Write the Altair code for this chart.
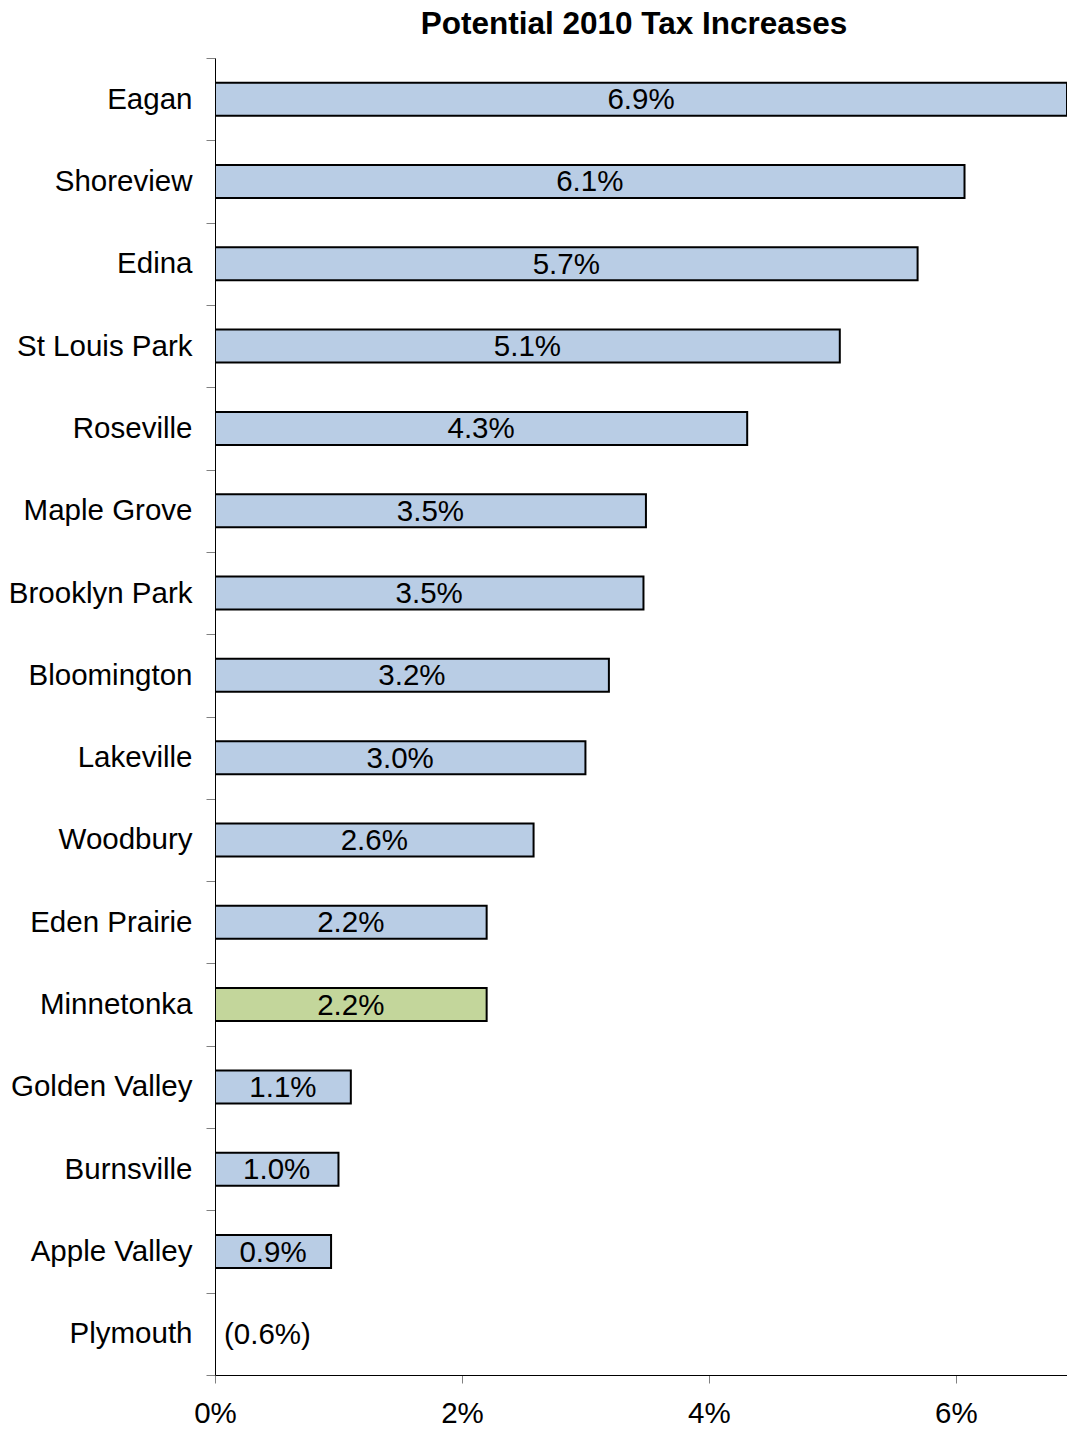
import altair as alt
import pandas as pd

cities = ["Eagan", "Shoreview", "Edina", "St Louis Park", "Roseville", "Maple Grove",
          "Brooklyn Park", "Bloomington", "Lakeville", "Woodbury", "Eden Prairie",
          "Minnetonka", "Golden Valley", "Burnsville", "Apple Valley", "Plymouth"]
values = [6.9, 6.07, 5.69, 5.06, 4.31, 3.49, 3.47, 3.19, 3.0, 2.58, 2.2, 2.2, 1.1, 1.0, 0.94, -0.6]
labels = ["6.9%", "6.1%", "5.7%", "5.1%", "4.3%", "3.5%", "3.5%", "3.2%", "3.0%", "2.6%",
          "2.2%", "2.2%", "1.1%", "1.0%", "0.9%", "(0.6%)"]
groups = ["Other"] * 11 + ["Minnetonka"] + ["Other"] * 4
x_ticks = [0, 2, 4, 6]

df = pd.DataFrame({"city": cities, "value": values, "label": labels, "group": groups})
df["mid"] = df["value"].clip(lower=0) / 2

FONT = "Liberation Sans"
FS = 29.5

y_enc = alt.Y("city:N", sort=cities, title=None,
              scale=alt.Scale(paddingInner=0, paddingOuter=0),
              axis=alt.Axis(tickBand="extent", tickSize=9, tickColor="#808080",
                            domainColor="black", labelPadding=14, labelFontSize=FS,
                            labelFont=FONT, labelColor="black", labelLimit=300))
x_scale = alt.Scale(domain=[0, 6.9], nice=False, zero=True)

bars = alt.Chart(df).mark_bar(size=33, stroke="black", strokeWidth=2, clip=True).encode(
    x=alt.X("value:Q", scale=x_scale, title=None,
            axis=alt.Axis(values=x_ticks, labelExpr="datum.value + '%'", grid=False,
                          tickSize=8, tickColor="#808080", domainColor="black",
                          labelPadding=16, labelFontSize=FS, labelFont=FONT,
                          labelAlign="center", labelColor="black")),
    y=y_enc,
    color=alt.Color("group:N", scale=alt.Scale(domain=["Other", "Minnetonka"],
                                               range=["#B9CDE5", "#C3D69B"]), legend=None),
)

pos_text = alt.Chart(df).transform_filter("datum.value >= 0").mark_text(
    fontSize=FS, font=FONT, color="black", align="center", baseline="middle", dy=1
).encode(x=alt.X("mid:Q", scale=x_scale), y=alt.Y("city:N", sort=cities), text="label:N")

neg_text = alt.Chart(df).transform_filter("datum.value < 0").mark_text(
    fontSize=FS, font=FONT, color="black", align="left", baseline="middle", dx=9, dy=1
).encode(x=alt.X("mid:Q", scale=x_scale), y=alt.Y("city:N", sort=cities), text="label:N")

chart = alt.layer(bars, pos_text, neg_text).properties(
    width=852, height=1317,
    title=alt.TitleParams("Potential 2010 Tax Increases", fontSize=31.5, fontWeight="bold",
                          font=FONT, color="black", anchor="middle", frame="group",
                          offset=3, dx=-7),
    autosize=alt.AutoSizeParams(type="none"),
    padding={"left": 207, "top": 50, "right": 0, "bottom": 57},
).configure_view(stroke=None).configure_axis(grid=False)

chart.save("out.html", embed_options={"renderer": "svg", "actions": False})
